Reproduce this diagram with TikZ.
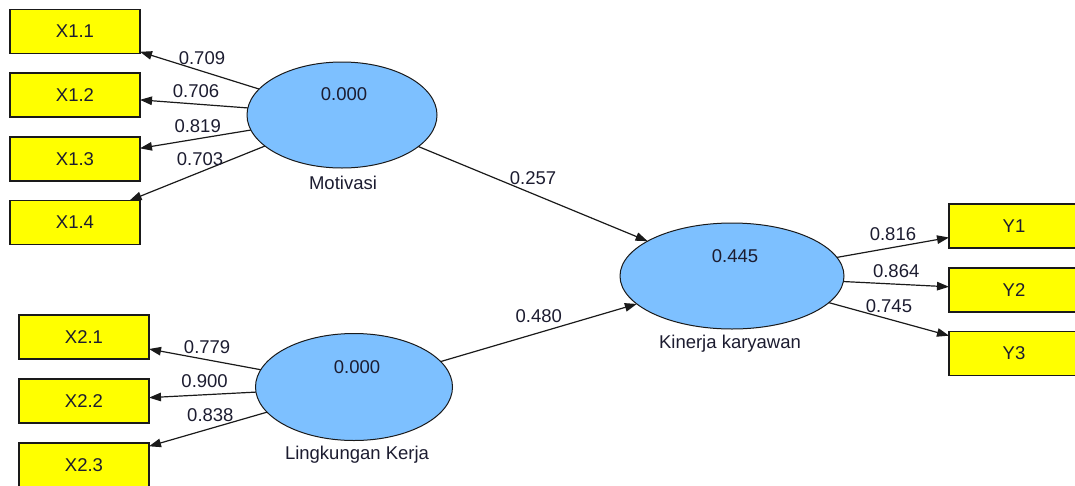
\documentclass[tikz,border=0pt]{standalone}
\usepackage{fontspec}
\setmainfont{Liberation Sans}
\usetikzlibrary{shapes.geometric,arrows.meta}

\definecolor{indyellow}{HTML}{FFFF00}
\definecolor{latblue}{HTML}{7DC0FF}
\definecolor{inkline}{HTML}{1A1A1A}
\definecolor{inktext}{HTML}{1C1C30}

\tikzset{
  base/.style={font=\fontsize{18.5}{20}\selectfont, text=inktext},
  indicator/.style={base, draw=inkline, line width=1.4pt, fill=indyellow,
    minimum width=130pt, minimum height=44pt, inner sep=0pt, outer sep=0pt},
  latent/.style={ellipse, draw=inkline, line width=1pt, fill=latblue,
    inner sep=0pt, outer sep=0pt},
  valtext/.style={base, inner sep=0pt},
  nametext/.style={base, inner sep=0pt},
  path/.style={draw=inkline, line width=1.2pt,
    -{Triangle[length=12pt,width=8.5pt]}},
  coef/.style={base, inner sep=1pt, above=5pt, pos=0.48},
}

\begin{document}
\begin{tikzpicture}[x=1pt,y=-1pt]
\useasboundingbox (0,0) rectangle (1075,485);
\clip (0,0) rectangle (1075,485);

% latent variables
\node[latent, minimum width=190pt, minimum height=106pt] (mot) at (342,115) {};
\node[latent, minimum width=197pt, minimum height=107pt] (lk) at (354,387) {};
\node[latent, minimum width=224pt, minimum height=106pt] (kin) at (732,276) {};

\node[valtext] (motv) at (344,94) {0.000};
\node[valtext] (lkv) at (357,367) {0.000};
\node[valtext] (kinv) at (735,256) {0.445};

\node[nametext] (motn) at (343,183) {Motivasi};
\node[nametext] (lkn) at (357,455) {Lingkungan Kerja};
\node[nametext] (kinn) at (730,344) {Kinerja karyawan};

% indicators
\node[indicator] (x11) at (75,31.5) {X1.1};
\node[indicator] (x12) at (75,95) {X1.2};
\node[indicator] (x13) at (75,159) {X1.3};
\node[indicator] (x14) at (75,222.5) {X1.4};

\node[indicator] (x21) at (84,337) {X2.1};
\node[indicator] (x22) at (84,401) {X2.2};
\node[indicator] (x23) at (84,465) {X2.3};

\node[indicator] (y1) at (1014,226) {Y1};
\node[indicator] (y2) at (1014,290) {Y2};
\node[indicator] (y3) at (1014,353.5) {Y3};

% outer loadings
\draw[path] (mot) -- node[coef] {0.709} (x11);
\draw[path] (mot) -- node[coef] {0.706} (x12);
\draw[path] (mot) -- node[coef] {0.819} (x13);
\draw[path] (mot) -- node[coef] {0.703} (x14);

\draw[path] (lk) -- node[coef] {0.779} (x21);
\draw[path] (lk) -- node[coef] {0.900} (x22);
\draw[path] (lk) -- node[coef] {0.838} (x23);

\draw[path] (kin) -- node[coef, pos=0.5] {0.816} (y1);
\draw[path] (kin) -- node[coef, pos=0.5] {0.864} (y2);
\draw[path] (kin) -- node[coef, pos=0.5] {0.745} (y3);

% path coefficients
\draw[path] (mot) -- node[coef, pos=0.5, above=3pt] {0.257} (kin);
\draw[path] (lk) -- node[coef, pos=0.5, above=3pt] {0.480} (kin);
\end{tikzpicture}
\end{document}
